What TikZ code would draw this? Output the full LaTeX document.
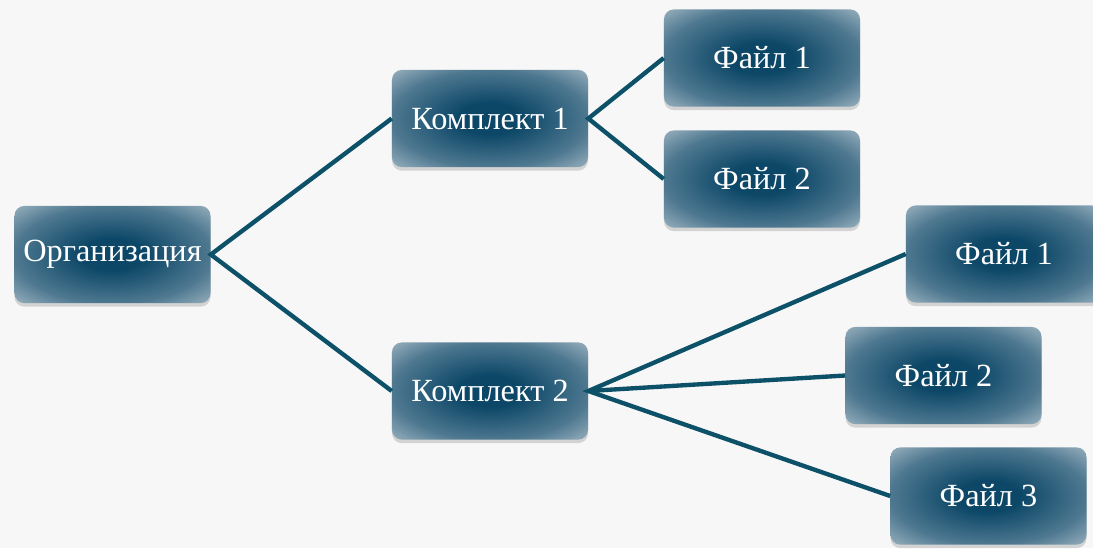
\documentclass[tikz,border=0pt]{standalone}
\usepackage{fontspec}
\setmainfont{Liberation Serif}
\usetikzlibrary{shadows}
\definecolor{boxcenter}{HTML}{0C4767}
\definecolor{boxmid}{HTML}{4E7890}
\definecolor{boxedge}{HTML}{A2B8C4}
\definecolor{linkcol}{HTML}{0D5169}
\definecolor{bgcol}{HTML}{F7F7F7}
\pgfdeclareradialshading{boxshade}{\pgfpoint{0bp}{0bp}}{color(0bp)=(boxcenter); color(8bp)=(boxcenter); color(25bp)=(boxmid); color(37bp)=(boxedge); color(50bp)=(boxedge)}
\tikzset{
  unit/.style={rectangle, rounded corners=7pt, minimum width=4.9cm, minimum height=2.43cm,
    shading=boxshade, text=white, font=\fontsize{23}{27}\selectfont,
    drop shadow={opacity=0.3, shadow xshift=0pt, shadow yshift=-2.5pt}},
  link/.style={draw=linkcol, line width=3.1pt}
}
\begin{document}
\begin{tikzpicture}[x=0.025cm, y=-0.025cm]
                \useasboundingbox (0,0) rectangle (1093,548);
                \clip (0,0) rectangle (1093,548);
                \fill[bgcol] (0,0) rectangle (1093,548);

                \node[unit] (org) at (112.5,254.5) {Организация};
                \node[unit] (set1) at (490,118.5) {Комплект 1};
                \node[unit] (set2) at (490,391) {Комплект 2};
                \node[unit] (f11) at (762,58) {Файл 1};
                \node[unit] (f12) at (762,179) {Файл 2};
                \node[unit] (f21) at (1004,254) {Файл 1};
                \node[unit] (f22) at (943.5,375.5) {Файл 2};
                \node[unit] (f23) at (988.5,496) {Файл 3};

                \draw[link] (set1.west) -- (org.east) -- (set2.west);
                \draw[link] (f11.west) -- (set1.east) -- (f12.west);
                \draw[link] (f21.west) -- (set2.east) -- (f23.west);
                \draw[link] (set2.east) -- (f22.west);
            \end{tikzpicture}
\end{document}
